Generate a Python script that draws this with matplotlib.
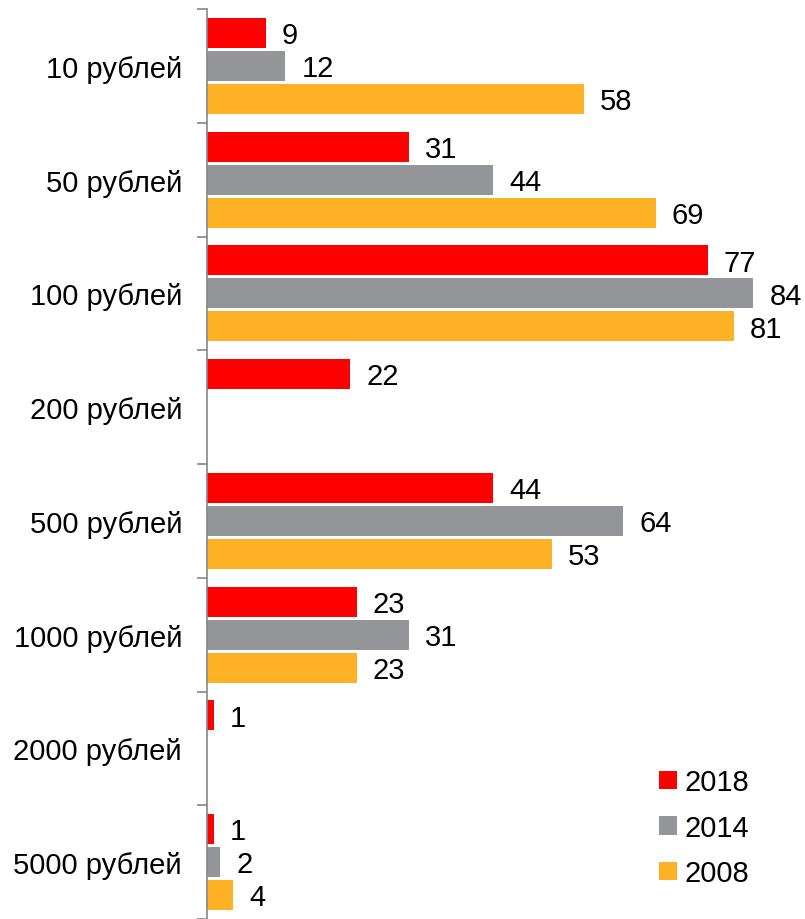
import numpy as np
import matplotlib.pyplot as plt

categories = ['10 рублей', '50 рублей', '100 рублей', '200 рублей',
              '500 рублей', '1000 рублей', '2000 рублей', '5000 рублей']
series_names = ['2018', '2014', '2008']
values_2018 = [9, 31, 77, 22, 44, 23, 1, 1]
values_2014 = [12, 44, 84, None, 64, 31, None, 2]
values_2008 = [58, 69, 81, None, 53, 23, None, 4]
colors = ['#ff0000', '#939598', '#ffb126']

plt.rcParams['font.family'] = ['Liberation Sans', 'DejaVu Sans']

fig = plt.figure(figsize=(8.05, 9.2), dpi=100)
ax = fig.add_axes([207 / 805, 0, 1 - 207 / 805, 1 - 10 / 920])

y = np.arange(len(categories))
offsets = [-0.29, 0, 0.29]
series = [values_2018, values_2014, values_2008]
for vals, off, col, name in zip(series, offsets, colors, series_names):
    ys = [yy + off for yy, v in zip(y, vals) if v is not None]
    vs = [v for v in vals if v is not None]
    ax.barh(ys, vs, height=0.265, color=col, label=name)
    for yy, v in zip(ys, vs):
        ax.text(v + 2.5, yy + 0.02, str(v), va='center', ha='left', fontsize=21)

ax.set_ylim(len(categories) - 0.5, -0.5)
ax.set_xlim(0, 92)
ax.set_yticks(y)
ax.set_yticklabels(categories, fontsize=21)
ax.set_yticks(np.arange(len(categories) + 1) - 0.5, minor=True)
ax.tick_params(axis='y', which='major', length=0, pad=18)
ax.tick_params(axis='y', which='minor', length=7, color='#868686', width=1.2)
ax.set_xticks([])
for s in ['top', 'right', 'bottom']:
    ax.spines[s].set_visible(False)
ax.spines['left'].set_color('#868686')
ax.spines['left'].set_linewidth(1.2)

ax.legend(loc='lower right', bbox_to_anchor=(0.95, 0.006), frameon=False,
          fontsize=21, handlelength=0.6, handleheight=0.6,
          handletextpad=0.25, labelspacing=0.6)

fig.savefig('out.png', dpi=100)
